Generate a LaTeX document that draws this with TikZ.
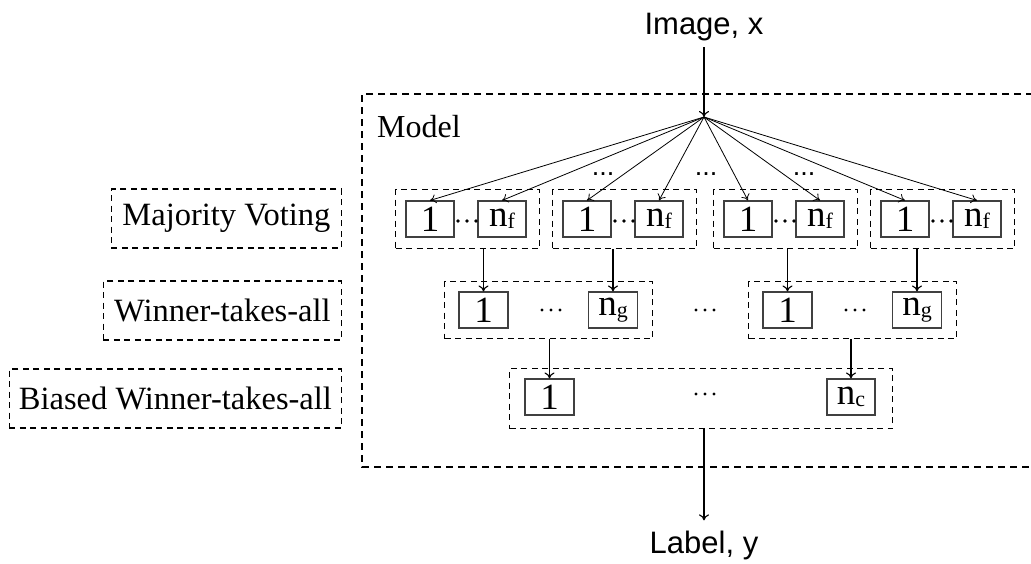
\documentclass[tikz,border=0pt]{standalone}
\usepackage{fontspec}
\setmainfont{Liberation Serif}
\newfontfamily\arialf{Liberation Sans}
\usetikzlibrary{arrows.meta}
\newcommand\sbx[1]{\raisebox{-2pt}{\fontsize{22}{22}\selectfont #1}}
\tikzset{
  dashbox/.style={draw=black, line width=1.1pt, dash pattern=on 6pt off 4.5pt, inner sep=0pt, anchor=north west},
  unitbox/.style={draw=black!75, line width=1.1pt, minimum width=48pt, minimum height=36pt, inner sep=0pt,
    font=\fontsize{37}{37}\selectfont},
  lblbox/.style={draw=black, line width=1.1pt, dash pattern=on 6pt off 4.5pt, inner sep=0pt, minimum height=59pt,
    anchor=east, font=\fontsize{32.5}{32.5}\selectfont},
  dotf/.style={fill=black},
  topdots/.style={inner sep=0pt, anchor=base, font=\arialf\fontsize{27}{27}\selectfont},
  arr/.style={line width=1.1pt, -{To[length=6pt,width=10pt]}},
  thinarr/.style={line width=0.8pt, -{To[length=6pt,width=9pt]}},
  sanslbl/.style={inner sep=0pt, font=\arialf\fontsize{31}{36}\selectfont}
}
\begin{document}
\begin{tikzpicture}[x=1pt,y=-1pt]
\useasboundingbox (0,0) rectangle (1031,563);
% Model box
\draw[line width=1.1pt, dash pattern=on 7pt off 5pt] (1045,94) -- (362,94) -- (362,467) -- (1045,467);
\node[inner sep=0pt, anchor=base west, font=\fontsize{32}{32}\selectfont] (model) at (377,137) {Model};
% input / output
\node[sanslbl] (img) at (704,27) {Image, x};
\coordinate (apex) at (704,117);
\draw[arr] ([yshift=-6pt]img.south) -- (apex);
% top dots
\node[topdots] (td1) at (603,175) {...};
\node[topdots] (td2) at (706,175) {...};
\node[topdots] (td3) at (804,175) {...};
% Level 1 groups
\foreach \L/\n in {395/1,552/2,713/3,870/4}{
  \node[dashbox, minimum width=144pt, minimum height=59pt] (g\n) at (\L,189) {};
  \node[unitbox] (a\n) at (\L+35,219) {1};
  \node[unitbox] (f\n) at (\L+107,219) {n\sbx{f}};
  \foreach \k in {0,1,2} \fill[dotf] (\L+63+\k*9,221) circle (1.9);
  \draw[thinarr] (apex) -- (a\n.north);
  \draw[thinarr] (apex) -- (f\n.north);
}
% Level 2 groups
\foreach \L/\n in {444/A,748/B}{
  \node[dashbox, minimum width=208pt, minimum height=57pt] (h\n) at (\L,281) {};
  \node[unitbox, minimum width=49pt] (b\n) at (\L+39.5,310) {1};
  \node[unitbox, minimum width=49pt] (g\n) at (\L+169,310) {n\sbx{g}};
  \foreach \k in {0,1,2} \fill[dotf] (\L+98+\k*9,310) circle (1.6);
}
\foreach \k in {0,1,2} \fill[dotf] (696+\k*9,310) circle (1.6);
\draw[arr] (g1.south -| bA.north) -- (bA.north);
\draw[arr] (g2.south -| gA.north) -- (gA.north);
\draw[arr] (g3.south -| bB.north) -- (bB.north);
\draw[arr] (g4.south -| gB.north) -- (gB.north);
% Level 3 group
\node[dashbox, minimum width=383pt, minimum height=60pt] (k) at (509,368) {};
\node[unitbox, minimum width=49pt] (c1) at (549.5,397) {1};
\node[unitbox] (cn) at (851,397) {n\sbx{c}};
\foreach \k in {0,1,2} \fill[dotf] (696+\k*9,394) circle (1.6);
\draw[arr] (hA.south -| c1.north) -- (c1.north);
\draw[arr] (hB.south -| cn.north) -- (cn.north);
% output
\node[sanslbl] (lab) at (704,545) {Label, y};
\coordinate (outtop) at (704,428);
\draw[arr] (outtop) -- ([yshift=10pt]lab.north);
% left labels
\node[lblbox, minimum width=230pt] (lmv) at (342,218.5) {Majority Voting};
\node[lblbox, minimum width=238pt] (lwta) at (342,310.5) {Winner-takes-all};
\node[lblbox, minimum width=332pt] (lbw) at (342,398.5) {Biased Winner-takes-all};
\end{tikzpicture}
\end{document}
